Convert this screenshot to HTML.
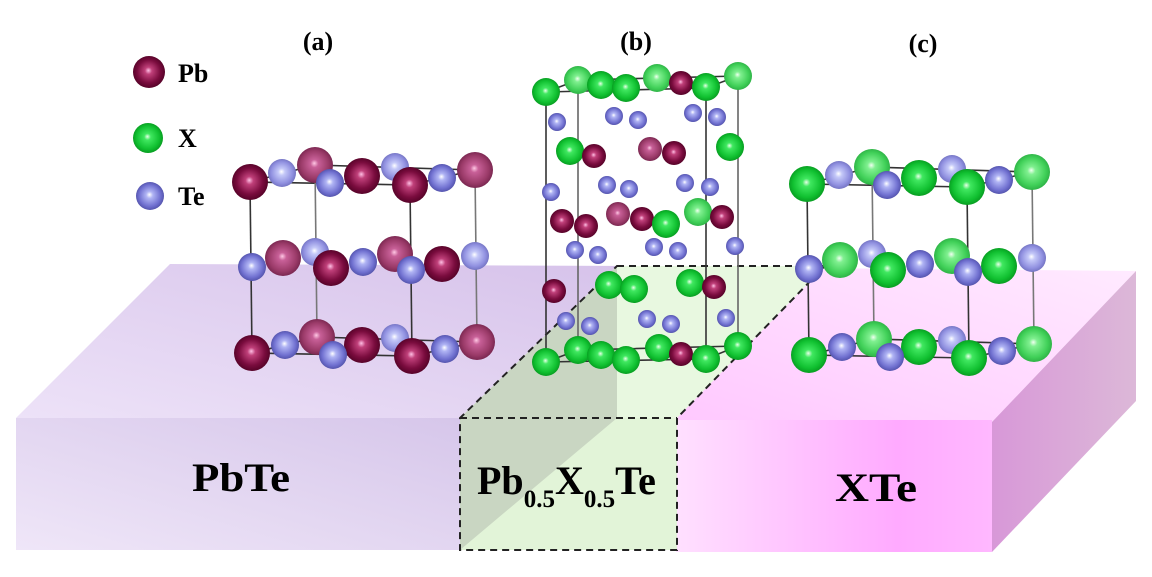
<!DOCTYPE html>
<html><head><meta charset="utf-8"><style>
html,body{margin:0;padding:0;background:#fff;}
svg{display:block;}
text{font-family:"Liberation Serif",serif;font-weight:bold;fill:#000;}
</style></head><body>
<svg width="1152" height="577" viewBox="0 0 1152 577" xmlns="http://www.w3.org/2000/svg">
<defs>
<radialGradient id="pd" cx="0.5" cy="0.5" r="0.55" fx="0.48" fy="0.45"><stop offset="0" stop-color="#ffc0e4"/><stop offset="0.2" stop-color="#c0407a"/><stop offset="0.65" stop-color="#7a0c3e"/><stop offset="1" stop-color="#4c0022"/></radialGradient>
<radialGradient id="pl" cx="0.5" cy="0.5" r="0.55" fx="0.48" fy="0.45"><stop offset="0" stop-color="#ffc8e4"/><stop offset="0.2" stop-color="#c86098"/><stop offset="0.7" stop-color="#9a3a68"/><stop offset="1" stop-color="#6e2048"/></radialGradient>
<radialGradient id="g" cx="0.5" cy="0.5" r="0.55" fx="0.48" fy="0.45"><stop offset="0" stop-color="#e8ffe8"/><stop offset="0.2" stop-color="#40e860"/><stop offset="0.7" stop-color="#10c030"/><stop offset="1" stop-color="#05901c"/></radialGradient>
<radialGradient id="gl" cx="0.5" cy="0.5" r="0.55" fx="0.48" fy="0.45"><stop offset="0" stop-color="#f0fff0"/><stop offset="0.2" stop-color="#80f090"/><stop offset="0.7" stop-color="#40d058"/><stop offset="1" stop-color="#28a840"/></radialGradient>
<radialGradient id="t" cx="0.5" cy="0.5" r="0.55" fx="0.48" fy="0.45"><stop offset="0" stop-color="#ffffff"/><stop offset="0.22" stop-color="#b0b4f4"/><stop offset="0.7" stop-color="#7070d0"/><stop offset="1" stop-color="#4a4aa0"/></radialGradient>
<radialGradient id="tl" cx="0.5" cy="0.5" r="0.55" fx="0.48" fy="0.45"><stop offset="0" stop-color="#ffffff"/><stop offset="0.22" stop-color="#c4c8f8"/><stop offset="0.7" stop-color="#9090e0"/><stop offset="1" stop-color="#6a6ab8"/></radialGradient>
<linearGradient id="lavTop" x1="0" y1="1" x2="1" y2="0"><stop offset="0" stop-color="#ede2f8"/><stop offset="1" stop-color="#d6c2ea"/></linearGradient>
<linearGradient id="lavFront" x1="0" y1="1" x2="1" y2="0"><stop offset="0" stop-color="#efe6f8"/><stop offset="1" stop-color="#d6c6ea"/></linearGradient>
<linearGradient id="pinkTop" x1="0" y1="1" x2="1" y2="0"><stop offset="0" stop-color="#ffc8ff"/><stop offset="1" stop-color="#ffeaff"/></linearGradient>
<linearGradient id="pinkFront" x1="0" y1="0" x2="1" y2="0"><stop offset="0" stop-color="#ffe0ff"/><stop offset="0.7" stop-color="#ffaaff"/><stop offset="1" stop-color="#ffb8ff"/></linearGradient>
<linearGradient id="pinkSide" x1="0" y1="0" x2="1" y2="0"><stop offset="0" stop-color="#d898d8"/><stop offset="1" stop-color="#dcb8d8"/></linearGradient>
</defs>

<polygon points="170,264 640,266 490,418 16,418" fill="url(#lavTop)"/>
<rect x="16" y="418" width="446" height="132" fill="url(#lavFront)"/>
<polygon points="800,268 1136,271 992,422 670,420" fill="url(#pinkTop)"/>
<rect x="676" y="420" width="316" height="132" fill="url(#pinkFront)"/>
<polygon points="992,422 1136,271 1136,401 992,552" fill="url(#pinkSide)"/>
<polygon points="617,266 825,266 677,418 460,418" fill="#e8f8e0"/>
<rect x="460" y="418" width="217" height="132" fill="#e2f4d8"/>
<polygon points="617,266 617,418 460,550 460,418" fill="#c9d6c2"/>
<polygon points="617,266 825,266 677,418 677,550 460,550 460,418" fill="none" stroke="#222" stroke-width="2" stroke-dasharray="7,5"/>
<line x1="460" y1="418" x2="677" y2="418" stroke="#222" stroke-width="2" stroke-dasharray="7,5"/>

<text x="192" y="491" font-size="40" textLength="98" lengthAdjust="spacingAndGlyphs">PbTe</text>
<text x="477" y="494" font-size="40">Pb<tspan font-size="25" dy="13">0.5</tspan><tspan dy="-13">X</tspan><tspan font-size="25" dy="13">0.5</tspan><tspan dy="-13">Te</tspan></text>
<text x="835" y="501" font-size="40" textLength="82" lengthAdjust="spacingAndGlyphs">XTe</text>

<text x="318" y="50" font-size="26" text-anchor="middle">(a)</text>
<text x="636" y="50" font-size="26" text-anchor="middle">(b)</text>
<text x="923" y="52" font-size="26" text-anchor="middle">(c)</text>

<circle cx="149" cy="72" r="16" fill="url(#pd)"/>
<circle cx="148" cy="138" r="15" fill="url(#g)"/>
<circle cx="150" cy="196" r="14" fill="url(#t)"/>
<text x="178" y="82" font-size="26">Pb</text>
<text x="178" y="147" font-size="26">X</text>
<text x="178" y="205" font-size="26">Te</text>

<g>
<g stroke="#333" stroke-width="1.6" fill="none">
<polyline points="315,165 475,170 410,185 250,182 315,165"/>
<polyline points="317,337 477,342 412,356 252,353 317,337"/>
<line x1="250" y1="182" x2="252" y2="353"/>
<line x1="315" y1="165" x2="317" y2="337" stroke="#777"/>
<line x1="410" y1="185" x2="412" y2="356"/>
<line x1="475" y1="170" x2="477" y2="342" stroke="#777"/>
</g>
<circle cx="315" cy="165" r="18" fill="url(#pl)"/>
<circle cx="475" cy="170" r="18" fill="url(#pl)"/>
<circle cx="395" cy="167" r="14" fill="url(#tl)"/>
<circle cx="282" cy="173" r="14" fill="url(#tl)"/>
<circle cx="362" cy="176" r="18" fill="url(#pd)"/>
<circle cx="442" cy="178" r="14" fill="url(#t)"/>
<circle cx="330" cy="183" r="14" fill="url(#t)"/>
<circle cx="250" cy="182" r="18" fill="url(#pd)"/>
<circle cx="410" cy="185" r="18" fill="url(#pd)"/>
<circle cx="315" cy="252" r="14" fill="url(#tl)"/>
<circle cx="475" cy="256" r="14" fill="url(#tl)"/>
<circle cx="395" cy="254" r="18" fill="url(#pl)"/>
<circle cx="283" cy="258" r="18" fill="url(#pl)"/>
<circle cx="363" cy="262" r="14" fill="url(#t)"/>
<circle cx="442" cy="264" r="18" fill="url(#pd)"/>
<circle cx="252" cy="267" r="14" fill="url(#t)"/>
<circle cx="331" cy="268" r="18" fill="url(#pd)"/>
<circle cx="411" cy="270" r="14" fill="url(#t)"/>
<circle cx="317" cy="337" r="18" fill="url(#pl)"/>
<circle cx="477" cy="342" r="18" fill="url(#pl)"/>
<circle cx="395" cy="338" r="14" fill="url(#tl)"/>
<circle cx="285" cy="345" r="14" fill="url(#t)"/>
<circle cx="362" cy="345" r="18" fill="url(#pd)"/>
<circle cx="445" cy="349" r="14" fill="url(#t)"/>
<circle cx="333" cy="355" r="14" fill="url(#t)"/>
<circle cx="252" cy="353" r="18" fill="url(#pd)"/>
<circle cx="412" cy="356" r="18" fill="url(#pd)"/>
</g>

<g transform="translate(557,2)">
<g stroke="#333" stroke-width="1.6" fill="none">
<polyline points="315,165 475,170 410,185 250,182 315,165"/>
<polyline points="317,337 477,342 412,356 252,353 317,337"/>
<line x1="250" y1="182" x2="252" y2="353"/>
<line x1="315" y1="165" x2="317" y2="337" stroke="#777"/>
<line x1="410" y1="185" x2="412" y2="356"/>
<line x1="475" y1="170" x2="477" y2="342" stroke="#777"/>
</g>
<circle cx="315" cy="165" r="18" fill="url(#gl)"/>
<circle cx="475" cy="170" r="18" fill="url(#gl)"/>
<circle cx="395" cy="167" r="14" fill="url(#tl)"/>
<circle cx="282" cy="173" r="14" fill="url(#tl)"/>
<circle cx="362" cy="176" r="18" fill="url(#g)"/>
<circle cx="442" cy="178" r="14" fill="url(#t)"/>
<circle cx="330" cy="183" r="14" fill="url(#t)"/>
<circle cx="250" cy="182" r="18" fill="url(#g)"/>
<circle cx="410" cy="185" r="18" fill="url(#g)"/>
<circle cx="315" cy="252" r="14" fill="url(#tl)"/>
<circle cx="475" cy="256" r="14" fill="url(#tl)"/>
<circle cx="395" cy="254" r="18" fill="url(#gl)"/>
<circle cx="283" cy="258" r="18" fill="url(#gl)"/>
<circle cx="363" cy="262" r="14" fill="url(#t)"/>
<circle cx="442" cy="264" r="18" fill="url(#g)"/>
<circle cx="252" cy="267" r="14" fill="url(#t)"/>
<circle cx="331" cy="268" r="18" fill="url(#g)"/>
<circle cx="411" cy="270" r="14" fill="url(#t)"/>
<circle cx="317" cy="337" r="18" fill="url(#gl)"/>
<circle cx="477" cy="342" r="18" fill="url(#gl)"/>
<circle cx="395" cy="338" r="14" fill="url(#tl)"/>
<circle cx="285" cy="345" r="14" fill="url(#t)"/>
<circle cx="362" cy="345" r="18" fill="url(#g)"/>
<circle cx="445" cy="349" r="14" fill="url(#t)"/>
<circle cx="333" cy="355" r="14" fill="url(#t)"/>
<circle cx="252" cy="353" r="18" fill="url(#g)"/>
<circle cx="412" cy="356" r="18" fill="url(#g)"/>
</g>

<g stroke="#333" stroke-width="1.6" fill="none">
<polyline points="578,80 738,76 706,88 546,92 578,80"/>
<polyline points="578,350 738,346 706,359 546,362 578,350"/>
<line x1="546" y1="92" x2="546" y2="362"/>
<line x1="578" y1="80" x2="578" y2="350" stroke="#666"/>
<line x1="706" y1="88" x2="706" y2="359"/>
<line x1="738" y1="76" x2="738" y2="346" stroke="#666"/>
</g>
<circle cx="578" cy="80" r="14" fill="url(#gl)"/>
<circle cx="657" cy="78" r="14" fill="url(#gl)"/>
<circle cx="738" cy="76" r="14" fill="url(#gl)"/>
<circle cx="681" cy="83" r="12" fill="url(#pd)"/>
<circle cx="601" cy="85" r="14" fill="url(#g)"/>
<circle cx="546" cy="92" r="14" fill="url(#g)"/>
<circle cx="626" cy="88" r="14" fill="url(#g)"/>
<circle cx="706" cy="87" r="14" fill="url(#g)"/>
<circle cx="557" cy="122" r="9" fill="url(#t)"/>
<circle cx="614" cy="116" r="9" fill="url(#t)"/>
<circle cx="638" cy="120" r="9" fill="url(#t)"/>
<circle cx="693" cy="113" r="9" fill="url(#t)"/>
<circle cx="717" cy="117" r="9" fill="url(#t)"/>
<circle cx="570" cy="151" r="14" fill="url(#g)"/>
<circle cx="594" cy="156" r="12" fill="url(#pd)"/>
<circle cx="650" cy="149" r="12" fill="url(#pl)"/>
<circle cx="674" cy="153" r="12" fill="url(#pd)"/>
<circle cx="730" cy="147" r="14" fill="url(#g)"/>
<circle cx="551" cy="192" r="9" fill="url(#t)"/>
<circle cx="607" cy="185" r="9" fill="url(#t)"/>
<circle cx="629" cy="189" r="9" fill="url(#t)"/>
<circle cx="685" cy="183" r="9" fill="url(#t)"/>
<circle cx="710" cy="187" r="9" fill="url(#t)"/>
<circle cx="618" cy="214" r="12" fill="url(#pl)"/>
<circle cx="698" cy="212" r="14" fill="url(#gl)"/>
<circle cx="562" cy="221" r="12" fill="url(#pd)"/>
<circle cx="586" cy="226" r="12" fill="url(#pd)"/>
<circle cx="642" cy="219" r="12" fill="url(#pd)"/>
<circle cx="722" cy="217" r="12" fill="url(#pd)"/>
<circle cx="666" cy="224" r="14" fill="url(#g)"/>
<circle cx="575" cy="250" r="9" fill="url(#t)"/>
<circle cx="598" cy="255" r="9" fill="url(#t)"/>
<circle cx="654" cy="247" r="9" fill="url(#t)"/>
<circle cx="678" cy="251" r="9" fill="url(#t)"/>
<circle cx="735" cy="246" r="9" fill="url(#t)"/>
<circle cx="554" cy="291" r="12" fill="url(#pd)"/>
<circle cx="609" cy="285" r="14" fill="url(#g)"/>
<circle cx="634" cy="289" r="14" fill="url(#g)"/>
<circle cx="690" cy="283" r="14" fill="url(#g)"/>
<circle cx="714" cy="287" r="12" fill="url(#pd)"/>
<circle cx="566" cy="321" r="9" fill="url(#t)"/>
<circle cx="590" cy="326" r="9" fill="url(#t)"/>
<circle cx="647" cy="319" r="9" fill="url(#t)"/>
<circle cx="671" cy="324" r="9" fill="url(#t)"/>
<circle cx="726" cy="318" r="9" fill="url(#t)"/>
<circle cx="578" cy="350" r="14" fill="url(#g)"/>
<circle cx="659" cy="348" r="14" fill="url(#g)"/>
<circle cx="738" cy="346" r="14" fill="url(#g)"/>
<circle cx="681" cy="354" r="12" fill="url(#pd)"/>
<circle cx="601" cy="355" r="14" fill="url(#g)"/>
<circle cx="546" cy="362" r="14" fill="url(#g)"/>
<circle cx="626" cy="360" r="14" fill="url(#g)"/>
<circle cx="706" cy="359" r="14" fill="url(#g)"/>
</svg>
</body></html>
